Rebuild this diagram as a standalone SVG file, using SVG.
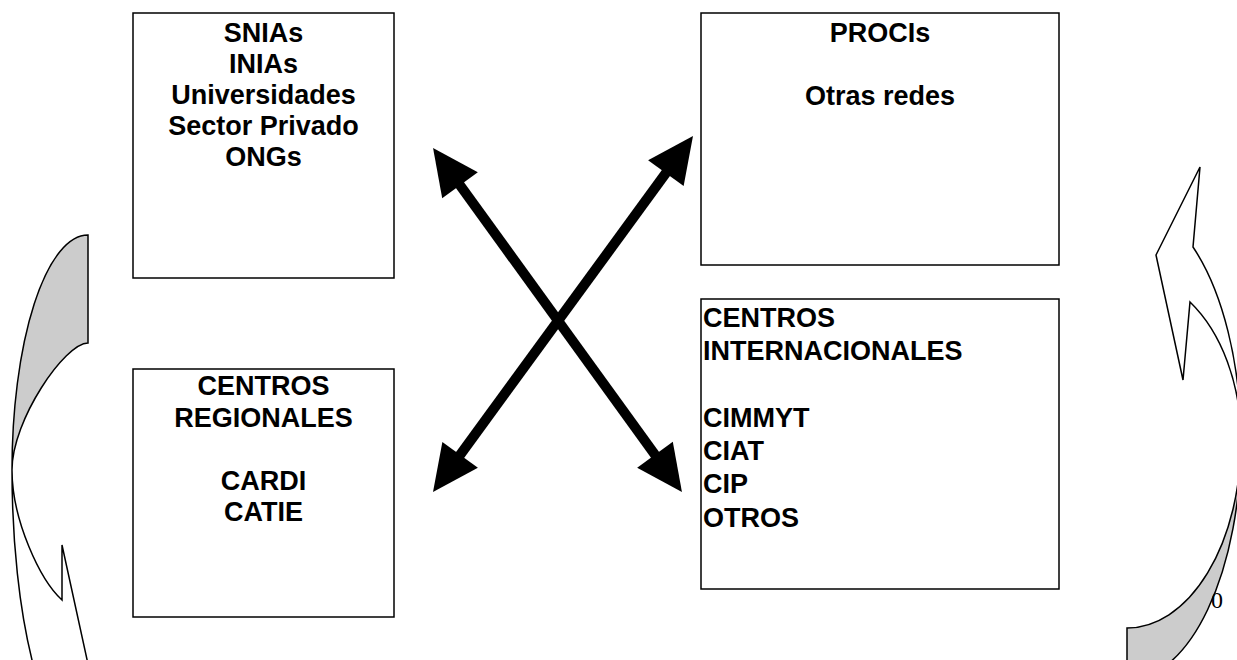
<svg xmlns="http://www.w3.org/2000/svg" width="1237" height="660" viewBox="0 0 1237 660">
<style>
.box{fill:#fff;stroke:#000;stroke-width:1.5}
.t{font-family:"Liberation Sans",Arial,sans-serif;font-weight:bold;font-size:27px;fill:#000}
.c{text-anchor:middle}
.band{stroke:#000;stroke-width:1.5;stroke-linejoin:miter}
.back{fill:#cccccc}
.front{fill:#fff}
.x{stroke:#000;stroke-width:10;fill:none;marker-start:url(#ah);marker-end:url(#ah)}
</style>
<defs>
<marker id="ah" markerUnits="userSpaceOnUse" markerWidth="50" markerHeight="50" viewBox="0 -25 50 50" refX="6" refY="0" orient="auto-start-reverse" overflow="visible">
<path d="M0,-22 L46,0 L0,22 Z" fill="#000"/>
</marker>
</defs>
<g id="cycle-left">
<path class="band back" d="M88,235 A76,235 0 0 0 12,470 C12,420 65,343 88,343 Z"/>
<path class="band front" d="M12,470 A76,281 0 0 0 88,751 L107,751 L62,545 L62,600 C40,580 12,520 12,470 Z"/>
</g>
<g id="cycle-right">
<path class="band back" d="M1241,440 A114,240 0 0 1 1127,680 L1127,628 A114,188 0 0 0 1241,440 Z"/>
<path class="band front" d="M1241,440 A114,240 0 0 0 1193,247 L1200,167 L1156,255 L1183,380 L1190,302 A114,166 0 0 1 1241,440 Z"/>
<text x="1211" y="608" font-family="'Liberation Serif','Times New Roman',serif" font-size="24">0</text>
</g>
<g id="node-snias">
<rect class="box" x="133" y="13" width="261" height="265"/>
<text class="t c" x="263.5" y="42">SNIAs</text>
<text class="t c" x="263.5" y="73">INIAs</text>
<text class="t c" x="263.5" y="104">Universidades</text>
<text class="t c" x="263.5" y="135">Sector Privado</text>
<text class="t c" x="263.5" y="166">ONGs</text>
</g>
<g id="node-procis">
<rect class="box" x="701" y="13" width="358" height="252"/>
<text class="t c" x="880" y="42">PROCIs</text>
<text class="t c" x="880" y="105">Otras redes</text>
</g>
<g id="node-regionales">
<rect class="box" x="133" y="369" width="261" height="248"/>
<text class="t c" x="263.5" y="395">CENTROS</text>
<text class="t c" x="263.5" y="427">REGIONALES</text>
<text class="t c" x="263.5" y="490">CARDI</text>
<text class="t c" x="263.5" y="521">CATIE</text>
</g>
<g id="node-internacionales">
<rect class="box" x="701" y="299" width="358" height="290"/>
<text class="t" x="703" y="327">CENTROS</text>
<text class="t" x="703" y="360">INTERNACIONALES</text>
<text class="t" x="703" y="427">CIMMYT</text>
<text class="t" x="703" y="460">CIAT</text>
<text class="t" x="703" y="493">CIP</text>
<text class="t" x="703" y="527">OTROS</text>
</g>
<g id="connectors">
<line class="x" x1="456.5" y1="180.4" x2="658.5" y2="459.6"/>
<line class="x" x1="669.4" y1="168.3" x2="456.6" y2="459.7"/>
</g>
</svg>
